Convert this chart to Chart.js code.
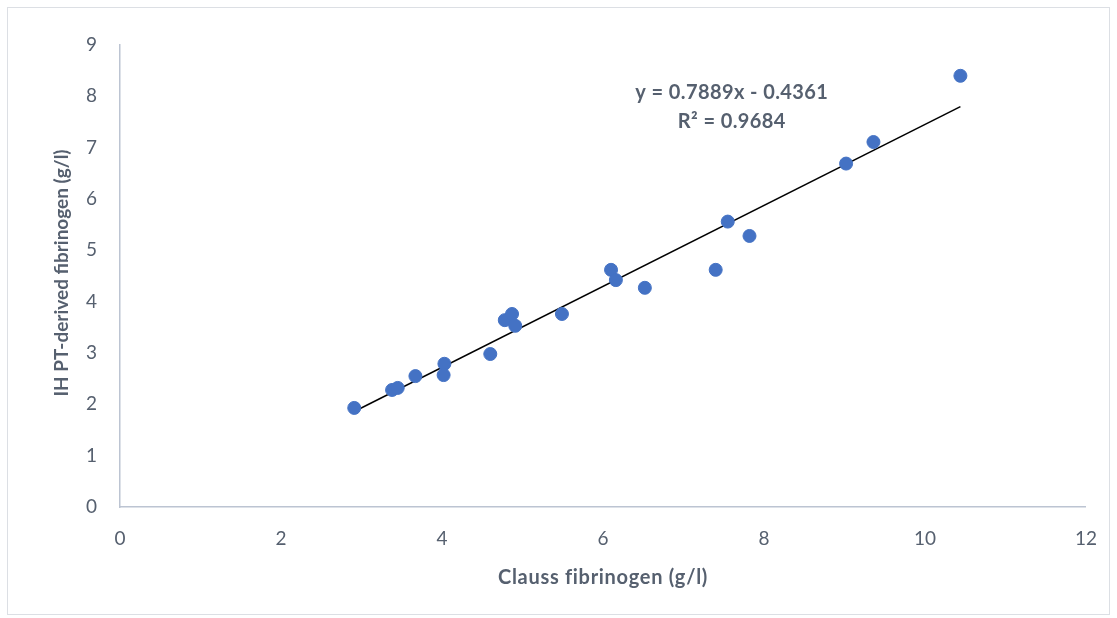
<!DOCTYPE html>
<html>
<head>
<meta charset="utf-8">
<script src="https://cdn.jsdelivr.net/npm/chart.js@4/dist/chart.umd.min.js"></script>
<style>
    html, body { margin: 0; padding: 0; background: #fff; }
    #wrap { position: relative; width: 1117px; height: 618px; }
    #frame { position: absolute; left: 7px; top: 7px; width: 1103px; height: 608px; border: 1px solid #dcdfe4; box-sizing: border-box; }
    canvas { position: absolute; left: 0; top: 0; }
</style>
</head>
<body>
<div id="wrap">
    <div id="frame"></div>
    <canvas id="chart" width="1117" height="618"></canvas>
</div>
<script>
// Data
const claussX = [2.91, 3.38, 3.45, 3.67, 4.03, 4.02, 4.60, 4.78, 4.87, 4.91, 5.49, 6.10, 6.16, 6.52, 7.40, 7.55, 7.82, 9.02, 9.36, 10.44];
const ptDerivedY = [1.93, 2.28, 2.32, 2.55, 2.79, 2.57, 2.98, 3.64, 3.76, 3.53, 3.76, 4.62, 4.42, 4.27, 4.62, 5.56, 5.28, 6.69, 7.11, 8.40];
const trendX = [2.91, 10.44];
const trendY = [1.86, 7.80];
const xTicks = [0, 2, 4, 6, 8, 10, 12];
const yTicks = [0, 1, 2, 3, 4, 5, 6, 7, 8, 9];
const equationLines = ['y = 0.7889x - 0.4361', 'R² = 0.9684'];
const xTitle = 'Clauss fibrinogen (g/l)';
const yTitle = 'IH PT-derived fibrinogen (g/l)';

const textColor = '#56606f';
const axisColor = '#bcc4d2';
const fontFamily = "Lato, 'Open Sans', sans-serif";

// Titles and trendline label
const labelsPlugin = {
    id: 'labels',
    afterDraw(chart) {
        const ctx = chart.ctx;
        ctx.save();
        ctx.fillStyle = textColor;
        ctx.textAlign = 'center';
        ctx.textBaseline = 'middle';

        ctx.font = 'bold 19px ' + fontFamily;
        ctx.save();
        ctx.translate(62, 273);
        ctx.rotate(-Math.PI / 2);
        ctx.fillText(yTitle, 0, 0);
        ctx.restore();

        ctx.font = 'bold 20px ' + fontFamily;
        ctx.letterSpacing = '0.7px';
        ctx.fillText(xTitle, 603, 578);

        ctx.letterSpacing = '0.4px';
        const xs = chart.scales.x;
        const ys = chart.scales.y;
        const cx = xs.getPixelForValue(7.6);
        ctx.fillText(equationLines[0], cx, ys.getPixelForValue(8.07));
        ctx.fillText(equationLines[1], cx, ys.getPixelForValue(7.5));
        ctx.restore();
    }
};

new Chart(document.getElementById('chart'), {
    type: 'scatter',
    data: {
        datasets: [
            {
                label: 'Trend',
                type: 'line',
                data: trendX.map((x, i) => ({ x: x, y: trendY[i] })),
                borderColor: '#000000',
                borderWidth: 1.5,
                pointRadius: 0,
                fill: false,
                order: 2
            },
            {
                label: 'Fibrinogen',
                data: claussX.map((x, i) => ({ x: x, y: ptDerivedY[i] })),
                backgroundColor: '#4472C4',
                borderColor: '#4472C4',
                pointRadius: 6.5,
                pointHoverRadius: 6.5,
                order: 1
            }
        ]
    },
    plugins: [labelsPlugin],
    options: {
        responsive: false,
        animation: false,
        layout: { padding: { top: 45, right: 29, left: 0, bottom: 0 } },
        plugins: {
            legend: { display: false },
            tooltip: { enabled: false }
        },
        scales: {
            x: {
                type: 'linear',
                min: 0,
                max: 12,
                afterFit: (s) => { s.height = 111; },
                afterBuildTicks: (s) => { s.ticks = xTicks.map(v => ({ value: v })); },
                grid: { display: false, drawTicks: false },
                border: { display: true, color: axisColor, width: 1.5 },
                ticks: { color: textColor, padding: 20, font: { size: 19, family: fontFamily } }
            },
            y: {
                type: 'linear',
                min: 0,
                max: 9,
                afterFit: (s) => { s.width = 120; },
                afterBuildTicks: (s) => { s.ticks = yTicks.map(v => ({ value: v })); },
                grid: { display: false, drawTicks: false },
                border: { display: true, color: axisColor, width: 1.5 },
                ticks: { color: textColor, padding: 23, font: { size: 19, family: fontFamily } }
            }
        }
    }
});
</script>
</body>
</html>
